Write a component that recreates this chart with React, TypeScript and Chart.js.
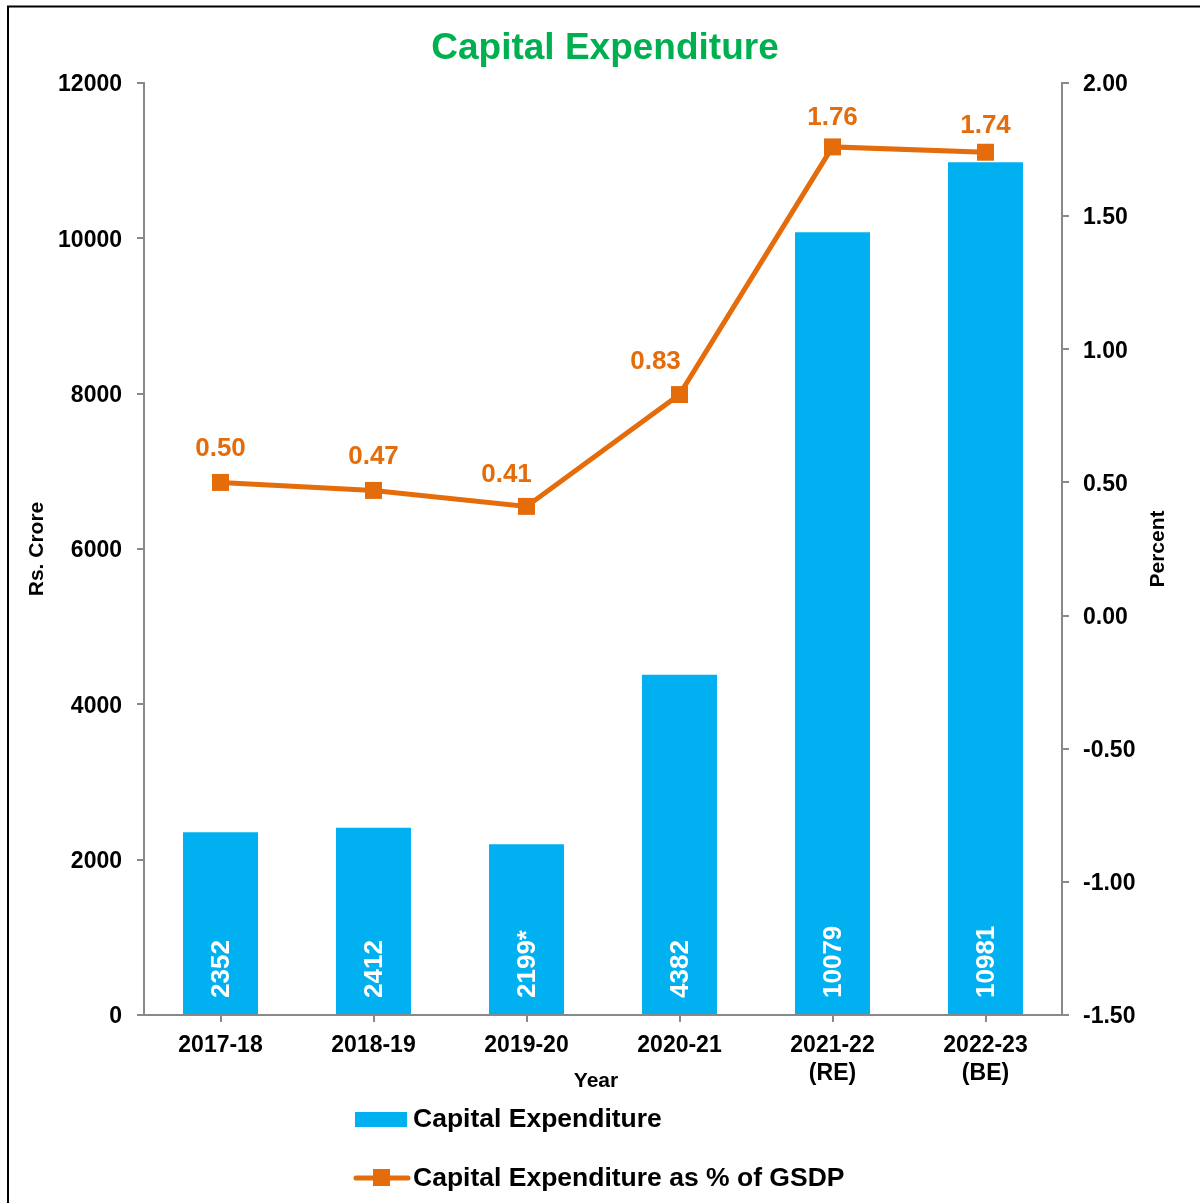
import React, { useEffect, useRef } from "react";
import { Chart, registerables } from "chart.js";

Chart.register(...registerables);

const categories: (string | string[])[] = [
  "2017-18",
  "2018-19",
  "2019-20",
  "2020-21",
  ["2021-22", "(RE)"],
  ["2022-23", "(BE)"],
];
const capexValues = [2352, 2412, 2199, 4382, 10079, 10981];
const capexLabels = ["2352", "2412", "2199*", "4382", "10079", "10981"];
const gsdpPercent = [0.5, 0.47, 0.41, 0.83, 1.76, 1.74];

// placement nudges for the percent labels (pixels), as in the reference
const pctLabelDx = [0, 0, -20, -24, 0, 0];
const pctLabelDy = [-34, -34, -32, -33, -29, -26];

const titleText = "Capital Expenditure";
const barSeriesName = "Capital Expenditure";
const lineSeriesName = "Capital Expenditure as % of GSDP";
const leftAxisTitle = "Rs. Crore";
const rightAxisTitle = "Percent";
const xAxisTitle = "Year";

const BAR_COLOR = "#00B0F0";
const LINE_COLOR = "#E46C0A";
const AXIS_COLOR = "#898989";
const FONT = "'Liberation Sans', Arial, sans-serif";

const W = 1200;
const H = 1203;

const overlayPlugin = {
  id: "overlay",
  afterDatasetsDraw(chart: any) {
    const ctx: CanvasRenderingContext2D = chart.ctx;
    const area = chart.chartArea;
    ctx.save();

    // bar value labels (vertical, white)
    const barMeta = chart.getDatasetMeta(1);
    ctx.fillStyle = "#FFFFFF";
    ctx.font = `bold 26px ${FONT}`;
    barMeta.data.forEach((el: any, i: number) => {
      ctx.save();
      ctx.translate(el.x + 1, area.bottom - 17);
      ctx.rotate(-Math.PI / 2);
      ctx.textAlign = "left";
      ctx.textBaseline = "middle";
      ctx.fillText(capexLabels[i], 0, 0);
      ctx.restore();
    });

    // line value labels
    const lineMeta = chart.getDatasetMeta(0);
    ctx.fillStyle = LINE_COLOR;
    ctx.font = `bold 26px ${FONT}`;
    ctx.textAlign = "center";
    ctx.textBaseline = "middle";
    lineMeta.data.forEach((el: any, i: number) => {
      ctx.fillText(gsdpPercent[i].toFixed(2), el.x + pctLabelDx[i], el.y + pctLabelDy[i]);
    });

    ctx.restore();
  },
  afterDraw(chart: any) {
    const ctx: CanvasRenderingContext2D = chart.ctx;
    const area = chart.chartArea;
    const midY = (area.top + area.bottom) / 2;
    ctx.save();

    // frame
    ctx.strokeStyle = "#000000";
    ctx.lineWidth = 2;
    ctx.strokeRect(8, 6.5, W + 20, H + 20);

    // title
    ctx.fillStyle = "#00B050";
    ctx.font = `bold 37px ${FONT}`;
    ctx.textAlign = "center";
    ctx.textBaseline = "middle";
    ctx.fillText(titleText, 605, 49);

    // axis titles
    ctx.fillStyle = "#000000";
    ctx.font = `bold 21px ${FONT}`;
    ctx.save();
    ctx.translate(37, midY);
    ctx.rotate(-Math.PI / 2);
    ctx.fillText(leftAxisTitle, 0, 0);
    ctx.restore();
    ctx.save();
    ctx.translate(1158, midY);
    ctx.rotate(-Math.PI / 2);
    ctx.fillText(rightAxisTitle, 0, 0);
    ctx.restore();
    ctx.fillText(xAxisTitle, 596, 1081);

    // legend
    ctx.font = `bold 26.5px ${FONT}`;
    ctx.textAlign = "left";
    ctx.fillStyle = BAR_COLOR;
    ctx.fillRect(355, 1112, 52, 15);
    ctx.fillStyle = "#000000";
    ctx.fillText(barSeriesName, 413, 1120);

    ctx.strokeStyle = LINE_COLOR;
    ctx.lineWidth = 5;
    ctx.lineCap = "round";
    ctx.beginPath();
    ctx.moveTo(356, 1178);
    ctx.lineTo(408, 1178);
    ctx.stroke();
    ctx.fillStyle = LINE_COLOR;
    ctx.fillRect(373, 1169, 17, 17);
    ctx.fillStyle = "#000000";
    ctx.fillText(lineSeriesName, 413, 1179);

    ctx.restore();
  },
};

export default function App() {
  const canvasRef = useRef<HTMLCanvasElement | null>(null);

  useEffect(() => {
    if (!canvasRef.current) return;
    const tickFont = { family: FONT, size: 23, weight: "bold" as const };
    const chart = new Chart(canvasRef.current, {
      type: "bar",
      data: {
        labels: categories,
        datasets: [
          {
            type: "line",
            label: lineSeriesName,
            data: gsdpPercent,
            yAxisID: "y1",
            borderColor: LINE_COLOR,
            backgroundColor: LINE_COLOR,
            borderWidth: 5,
            pointStyle: "rect",
            pointRadius: 12,
            pointBorderWidth: 0,
            pointBackgroundColor: LINE_COLOR,
            tension: 0,
            order: 0,
          } as any,
          {
            type: "bar",
            label: barSeriesName,
            data: capexValues,
            yAxisID: "y",
            backgroundColor: BAR_COLOR,
            borderWidth: 0,
            barPercentage: 0.49,
            categoryPercentage: 1,
            order: 1,
          },
        ],
      },
      options: {
        responsive: false,
        animation: false,
        devicePixelRatio: 1,
        layout: { padding: { top: 83, left: 0, right: 0, bottom: 0 } },
        plugins: {
          legend: { display: false },
          title: { display: false },
          tooltip: { enabled: false },
        },
        scales: {
          x: {
            offset: true,
            grid: {
              offset: false,
              drawOnChartArea: false,
              drawTicks: true,
              tickLength: 7,
              color: AXIS_COLOR,
              lineWidth: 2,
            },
            border: { display: true, color: AXIS_COLOR, width: 2 },
            ticks: { color: "#000000", font: tickFont, padding: 10, maxRotation: 0, autoSkip: false },
            afterFit(scale: any) {
              scale.height = 188;
            },
          },
          y: {
            position: "left",
            min: 0,
            max: 12000,
            grid: {
              drawOnChartArea: false,
              drawTicks: true,
              tickLength: 7,
              color: AXIS_COLOR,
              lineWidth: 2,
            },
            border: { display: true, color: AXIS_COLOR, width: 2 },
            ticks: {
              stepSize: 2000,
              color: "#000000",
              font: tickFont,
              padding: 15,
              labelOffset: 2,
              callback: (v: any) => String(v),
            },
            afterFit(scale: any) {
              scale.width = 144;
            },
          },
          y1: {
            position: "right",
            min: -1.5,
            max: 2.0,
            grid: {
              drawOnChartArea: false,
              drawTicks: true,
              tickLength: 7,
              color: AXIS_COLOR,
              lineWidth: 2,
            },
            border: { display: true, color: AXIS_COLOR, width: 2 },
            ticks: {
              stepSize: 0.5,
              color: "#000000",
              font: tickFont,
              padding: 14,
              labelOffset: 2,
              callback: (v: any) => Number(v).toFixed(2),
            },
            afterFit(scale: any) {
              scale.width = 138;
            },
          },
        },
      },
      plugins: [overlayPlugin],
    });
    return () => chart.destroy();
  }, []);

  return (
    <div style={{ position: "absolute", left: 0, top: 0, width: W, height: H, background: "#fff" }}>
      <canvas ref={canvasRef} width={W} height={H} style={{ display: "block", width: W, height: H }} />
    </div>
  );
}
